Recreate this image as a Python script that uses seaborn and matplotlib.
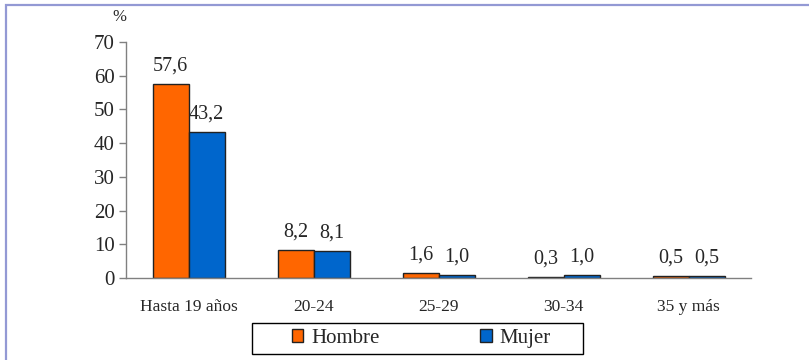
import matplotlib
matplotlib.use('Agg')
import matplotlib.pyplot as plt
import seaborn as sns
import pandas as pd
from matplotlib.patches import Rectangle, Patch


categories = ['Hasta 19 años', '20-24', '25-29', '30-34', '35 y más']
hombre = [57.6, 8.2, 1.6, 0.3, 0.5]
mujer = [43.2, 8.1, 1.0, 1.0, 0.5]
series_names = ['Hombre', 'Mujer']
colors = ['#FF6600', '#0066CC']
y_ticks = [0, 10, 20, 30, 40, 50, 60, 70]


def comma(v):
    return f'{v:.1f}'.replace('.', ',')


df = pd.DataFrame({
    'cat': categories * 2,
    'valor': hombre + mujer,
    'sexo': [series_names[0]] * len(categories) + [series_names[1]] * len(categories),
})

sns.set_style('white')
plt.rcParams['font.family'] = ['Liberation Serif', 'DejaVu Serif']

W, H = 809, 360
fig = plt.figure(figsize=(W / 100, H / 100), dpi=100)
ax = fig.add_axes([126 / W, (H - 278) / H, (751 - 126) / W, (278 - 42) / H])

sns.barplot(data=df, x='cat', y='valor', hue='sexo', order=categories,
            hue_order=series_names, palette=colors, width=0.576,
            edgecolor='#222222', linewidth=1, saturation=1, ax=ax, legend=False)

for cont in ax.containers:
    ax.bar_label(cont, labels=[comma(b.get_height()) for b in cont],
                 padding=6, fontsize=14.5)

ax.set_ylim(0, 70)
ax.set_xlim(-0.5, len(categories) - 0.5)
ax.set_yticks(y_ticks)
ax.set_yticklabels([str(t) for t in y_ticks], fontsize=15)
ax.set_xlabel('')
ax.set_ylabel('')
ax.tick_params(axis='x', which='major', length=0, pad=15, labelsize=12.5)
ax.set_xticks([i - 0.5 for i in range(len(categories) + 1)], minor=True)
ax.tick_params(axis='x', which='minor', length=5, color='#808080', width=1)
ax.tick_params(axis='y', length=5, color='#808080', width=1, pad=3, left=True)
for s in ['top', 'right']:
    ax.spines[s].set_visible(False)
for s in ['left', 'bottom']:
    ax.spines[s].set_color('#808080')
    ax.spines[s].set_linewidth(1)

fig.text(119 / W, 1 - 17 / H, '%', ha='center', va='center', fontsize=12)

handles = [Patch(facecolor=c, edgecolor='#222222', linewidth=1) for c in colors]
leg = fig.legend(handles, series_names, loc='center', ncol=2,
                 bbox_to_anchor=(421.5 / W, 1 - 338.5 / H),
                 fontsize=15, frameon=False,
                 handlelength=0.55, handleheight=0.55, handletextpad=0.4,
                 columnspacing=4.8, borderpad=0.3, borderaxespad=0)

# legend frame, wider than the entries as in the original
fig.add_artist(Rectangle((252 / W, 1 - 354 / H), (583 - 252) / W, 31 / H,
                         fill=False, edgecolor='black', linewidth=1,
                         transform=fig.transFigure))

fig.add_artist(Rectangle((5.5 / W, -0.1), 1.2, (H - 5.5) / H + 0.1, fill=False,
                         edgecolor='#9399d4', linewidth=1.6,
                         transform=fig.transFigure, clip_on=False))

fig.savefig('out.png', dpi=100)
